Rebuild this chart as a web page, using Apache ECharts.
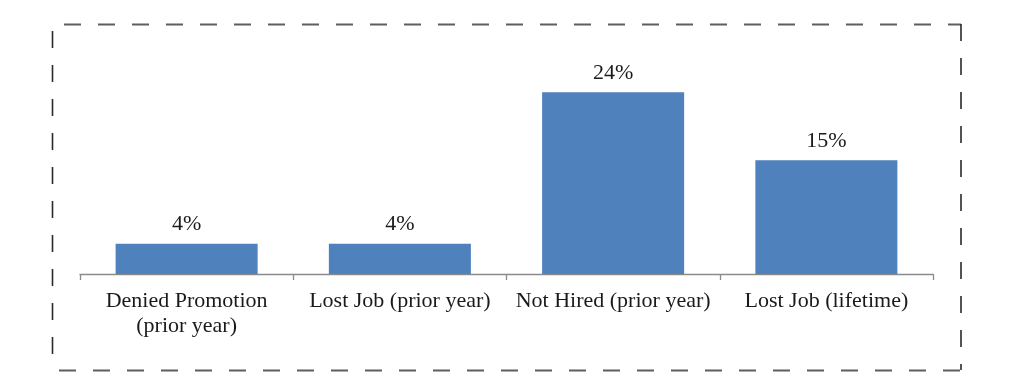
<!DOCTYPE html>
<html>
<head>
<meta charset="utf-8">
<script src="https://cdn.jsdelivr.net/npm/echarts@6/dist/echarts.min.js"></script>
<style>
html,body{margin:0;padding:0;background:#fff;}
#chart{width:1015px;height:392px;}
</style>
</head>
<body>
<div id="chart"></div>
<script>
const categories = ['Denied Promotion\n(prior year)', 'Lost Job (prior year)', 'Not Hired (prior year)', 'Lost Job (lifetime)'];
const values = [4, 4, 24, 15];

const hStyle = {stroke: '#5e5e5e', lineWidth: 2, lineDash: [17, 17]};
const vStyle = {stroke: '#2a2a2a', lineWidth: 1.6, lineDash: [17, 17]};

const chart = echarts.init(document.getElementById('chart'), null, {renderer: 'canvas'});
chart.setOption({
  animation: false,
  backgroundColor: '#ffffff',
  graphic: [
    {type: 'line', silent: true, shape: {x1: 52, y1: 24.5, x2: 961, y2: 24.5}, style: Object.assign({lineDashOffset: -12}, hStyle)},
    {type: 'line', silent: true, shape: {x1: 52, y1: 370.5, x2: 961, y2: 370.5}, style: Object.assign({lineDashOffset: -7}, hStyle)},
    {type: 'line', silent: true, shape: {x1: 52.5, y1: 24, x2: 52.5, y2: 370}, style: Object.assign({lineDashOffset: -7}, vStyle)},
    {type: 'line', silent: true, shape: {x1: 961, y1: 24, x2: 961, y2: 370}, style: Object.assign({lineDashOffset: 0}, vStyle)}
  ],
  grid: {left: 80, right: 82, top: 49, bottom: 118, containLabel: false},
  xAxis: {
    type: 'category',
    data: categories,
    axisLine: {lineStyle: {color: '#8a8a8a', width: 1.3}},
    axisTick: {show: true, length: 6, lineStyle: {color: '#8a8a8a', width: 1.3}},
    axisLabel: {
      interval: 0,
      color: '#1a1a1a',
      fontFamily: 'Liberation Serif',
      fontSize: 22,
      lineHeight: 25,
      margin: 15
    }
  },
  yAxis: {
    type: 'value',
    min: 0,
    max: 29.7,
    show: false,
    splitLine: {show: false}
  },
  series: [{
    type: 'bar',
    data: values,
    barCategoryGap: '33.4%',
    itemStyle: {color: '#4F81BD'},
    label: {
      show: true,
      position: 'top',
      distance: 8,
      formatter: '{c}%',
      color: '#1a1a1a',
      fontFamily: 'Liberation Serif',
      fontSize: 22
    }
  }]
});
</script>
</body>
</html>
